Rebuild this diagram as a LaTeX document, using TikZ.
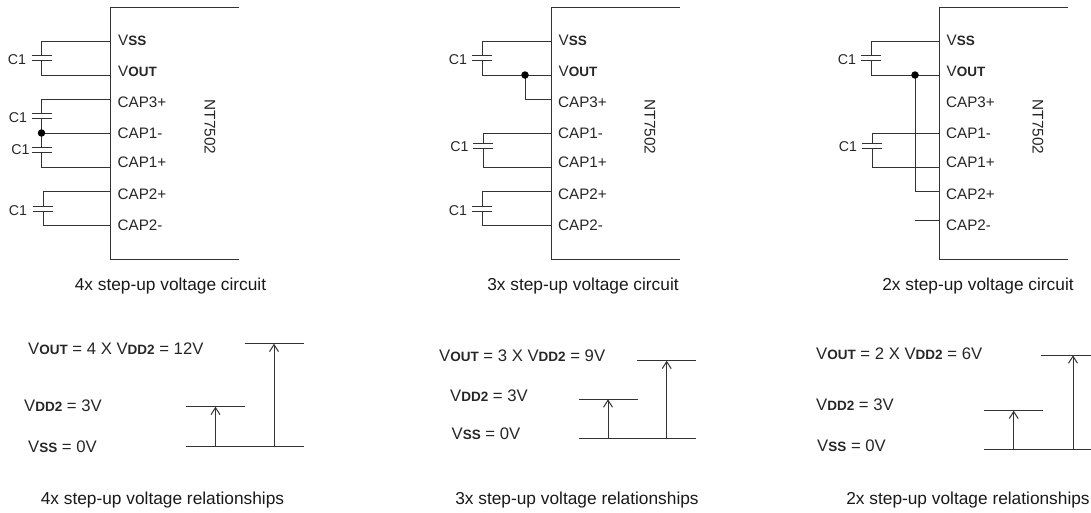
\documentclass[tikz,border=0pt]{standalone}
\usepackage{fontspec}
\setmainfont{Liberation Sans}
\usetikzlibrary{arrows.meta}
\newcommand{\sm}[1]{{\fontsize{13.5}{15}\selectfont\bfseries #1}}
\newcommand{\Vss}{V\sm{SS}}
\newcommand{\Vout}{V\sm{OUT}}
\newcommand{\Vdd}{V\sm{DD2}}
\tikzset{
  wire/.style={line width=1pt,draw=black!80},
  lbl/.style={inner sep=0pt,anchor=west,font=\fontsize{15.2}{17}\selectfont,text=black!85},
  lvl/.style={inner sep=0pt,anchor=west,font=\fontsize{16.7}{18}\selectfont,text=black!85},
  ctr/.style={inner sep=0pt,anchor=center,font=\fontsize{14.2}{16}\selectfont,text=black!85},
  cpt/.style={inner sep=0pt,anchor=center,font=\fontsize{17.3}{19}\selectfont,text=black!90},
  jdot/.style={circle,fill=black,inner sep=0pt,minimum size=7.5pt},
  uparrow/.style={wire,-{Straight Barb[length=7pt,width=9pt]}},
}
% chip outline, pins and pin labels, with coordinates named by the scope's prefix
\newcommand{\chip}[1]{%
  \coordinate (tr) at (128.5,7.5); \coordinate (tl) at (0,7.5);
  \coordinate (bl) at (0,259); \coordinate (br) at (128.5,259);
  \draw[wire] (tr) -- (tl) -- (bl) -- (br);
  \coordinate (vss) at (0,41); \coordinate (vout) at (0,75);
  \coordinate (cap3) at (0,99); \coordinate (cap1m) at (0,133);
  \coordinate (cap1p) at (0,167); \coordinate (cap2p) at (0,191.5);
  \coordinate (cap2m) at (0,225);
  \node[lbl] (tvss) at (7.5,40.5) {\Vss};
  \node[lbl] (tvout) at (7.5,71.5) {\Vout};
  \node[lbl] (tc3) at (7,102.5) {CAP3+};
  \node[lbl] (tc1m) at (7,133) {CAP1-};
  \node[lbl] (tc1p) at (7,162.5) {CAP1+};
  \node[lbl] (tc2p) at (7,194) {CAP2+};
  \node[lbl] (tc2m) at (7,225) {CAP2-};
  \node[ctr,rotate=-90,font=\fontsize{15.4}{17}\selectfont] (tnt) at (#1,127) {NT7502};
}
% capacitor plates: name, wire x, upper plate y
\newcommand{\capac}[3]{%
  \coordinate (#1t) at (#2,#3); \coordinate (#1b) at (#2,#3+5);
  \draw[wire] (#2-10,#3) -- (#2+10,#3);
  \draw[wire] (#2-10,#3+5) -- (#2+10,#3+5);
}
\begin{document}
\begin{tikzpicture}[x=1pt,y=-1pt]
\useasboundingbox (0,0) rectangle (1091,512);
% ---------- 4x
\begin{scope}[shift={(110.5,0)},name prefix=a-]
  \chip{99.5}
  \capac{p}{-69}{55}
  \capac{q}{-69}{113.5}
  \capac{r}{-69}{147}
  \capac{s}{-67.5}{206}
  \coordinate (jj) at (-69,133);
  \draw[wire] (vss) -| (pt); \draw[wire] (vout) -| (pb);
  \draw[wire] (cap3) -| (qt); \draw[wire] (qb) -- (jj) -- (rt);
  \draw[wire] (cap1m) -- (jj); \draw[wire] (cap1p) -| (rb);
  \draw[wire] (cap2p) -| (st); \draw[wire] (cap2m) -| (sb);
  \node[jdot] (j) at (jj) {};
  \node[ctr] (c1a) at (-93.5,60) {C1};
  \node[ctr] (c1b) at (-92.5,118) {C1};
  \node[ctr] (c1c) at (-90,150) {C1};
  \node[ctr] (c1d) at (-92.5,211) {C1};
\end{scope}
% ---------- 3x
\begin{scope}[shift={(551,0)},name prefix=b-]
  \chip{99}
  \capac{p}{-69}{55}
  \capac{q}{-68}{143}
  \capac{s}{-69}{206}
  \coordinate (jj) at (-26,75);
  \draw[wire] (vss) -| (pt); \draw[wire] (vout) -| (pb);
  \draw[wire] (cap3) -| (jj);
  \draw[wire] (cap1m) -| (qt); \draw[wire] (cap1p) -| (qb);
  \draw[wire] (cap2p) -| (st); \draw[wire] (cap2m) -| (sb);
  \node[jdot] (j) at (jj) {};
  \node[ctr] (c1a) at (-93,60) {C1};
  \node[ctr] (c1b) at (-91.5,147) {C1};
  \node[ctr] (c1d) at (-93,211) {C1};
\end{scope}
% ---------- 2x
\begin{scope}[shift={(939,0)},name prefix=c-]
  \chip{99}
  \capac{p}{-68}{55}
  \capac{q}{-67}{143}
  \coordinate (jj) at (-24,75);
  \coordinate (stub) at (-24,220.5);
  \coordinate (pinb) at (0,220.5);
  \draw[wire] (vss) -| (pt); \draw[wire] (vout) -| (pb);
  \draw[wire] (cap2p) -| (jj);
  \draw[wire] (cap1m) -| (qt); \draw[wire] (cap1p) -| (qb);
  \draw[wire] (stub) -- (pinb);
  \node[jdot] (j) at (jj) {};
  \node[ctr] (c1a) at (-92,60) {C1};
  \node[ctr] (c1b) at (-91,147) {C1};
\end{scope}
% captions
\node[cpt] (cap4) at (170.5,286.5) {4x step-up voltage circuit};
\node[cpt] (cap3) at (583,286.5) {3x step-up voltage circuit};
\node[cpt] (cap2) at (978,286.5) {2x step-up voltage circuit};
\node[cpt] (rel4) at (162.5,500) {4x step-up voltage relationships};
\node[cpt] (rel3) at (577,500) {3x step-up voltage relationships};
\node[cpt] (rel2) at (968,500) {2x step-up voltage relationships};
% ---------- levels 4x
\node[lvl] (a1) at (28,348.5) {\Vout{} = 4 X \Vdd{} = 12V};
\node[lvl] (a2) at (24,405.5) {\Vdd{} = 3V};
\node[lvl] (a3) at (28,446.5) {\Vss{} = 0V};
\coordinate (ab1) at (186,446); \coordinate (ab2) at (304,446);
\coordinate (am1) at (186,406.7); \coordinate (am2) at (245,406.7);
\coordinate (at1) at (244.5,343.7); \coordinate (at2) at (304,343.7);
\coordinate (aa1) at (215.5,446); \coordinate (aa2) at (215.5,406.7);
\coordinate (ab3) at (274,446); \coordinate (ab4) at (274,343.7);
\draw[wire] (ab1) -- (ab2); \draw[wire] (am1) -- (am2); \draw[wire] (at1) -- (at2);
\draw[uparrow] (aa1) -- (aa2); \draw[uparrow] (ab3) -- (ab4);
% ---------- levels 3x
\node[lvl] (b1) at (439,355.5) {\Vout{} = 3 X \Vdd{} = 9V};
\node[lvl] (b2) at (450,395.5) {\Vdd{} = 3V};
\node[lvl] (b3) at (451.5,433.5) {\Vss{} = 0V};
\coordinate (bb1) at (578.7,438); \coordinate (bb2) at (696,438);
\coordinate (bm1) at (578.7,399.3); \coordinate (bm2) at (637.7,399.3);
\coordinate (bt1) at (637,360.7); \coordinate (bt2) at (696,360.7);
\coordinate (ba1) at (608,438); \coordinate (ba2) at (608,399.3);
\coordinate (bb3) at (666.7,438); \coordinate (bb4) at (666.7,360.7);
\draw[wire] (bb1) -- (bb2); \draw[wire] (bm1) -- (bm2); \draw[wire] (bt1) -- (bt2);
\draw[uparrow] (ba1) -- (ba2); \draw[uparrow] (bb3) -- (bb4);
% ---------- levels 2x
\node[lvl] (c1) at (816,354) {\Vout{} = 2 X \Vdd{} = 6V};
\node[lvl] (c2) at (816,405) {\Vdd{} = 3V};
\node[lvl] (c3) at (817,446) {\Vss{} = 0V};
\coordinate (cb1) at (983.7,449.3); \coordinate (cb2) at (1091,449.3);
\coordinate (cm1) at (983.7,410.7); \coordinate (cm2) at (1043,410.7);
\coordinate (ct1) at (1041,355.3); \coordinate (ct2) at (1091,355.3);
\coordinate (ca1) at (1013.7,449.3); \coordinate (ca2) at (1013.7,410.7);
\coordinate (cb3) at (1073,449.3); \coordinate (cb4) at (1073,355.3);
\draw[wire] (cb1) -- (cb2); \draw[wire] (cm1) -- (cm2); \draw[wire] (ct1) -- (ct2);
\draw[uparrow] (ca1) -- (ca2); \draw[uparrow] (cb3) -- (cb4);
\end{tikzpicture}
\end{document}
